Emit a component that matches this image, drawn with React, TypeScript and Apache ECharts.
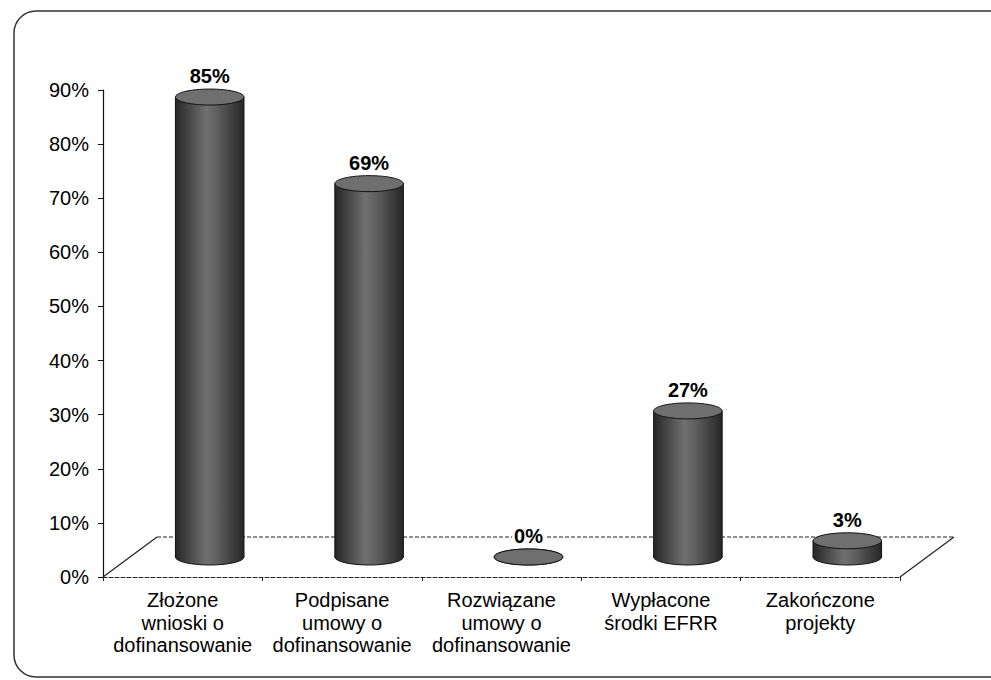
import React, { useEffect, useRef } from "react";
import * as echarts from "echarts";

const CATEGORIES = [
  "Złożone\nwnioski o\ndofinansowanie",
  "Podpisane\numowy o\ndofinansowanie",
  "Rozwiązane\numowy o\ndofinansowanie",
  "Wypłacone\nśrodki EFRR",
  "Zakończone\nprojekty",
];
const VALUES = [85, 69, 0, 27, 3];
const Y_MIN = 0;
const Y_MAX = 90;
const Y_STEP = 10;

const DX = 27;
const DY = -20;
const RY = 8;
const FONT = '"Liberation Sans", Arial, sans-serif';

export default function App() {
  const ref = useRef<HTMLDivElement>(null);
  useEffect(() => {
    if (!ref.current) return;
    const chart = echarts.init(ref.current, null, { renderer: "svg" });
    const bodyGrad = () =>
      new echarts.graphic.LinearGradient(0, 0, 1, 0, [
        { offset: 0, color: "#262626" },
        { offset: 0.45, color: "#707070" },
        { offset: 0.6, color: "#606060" },
        { offset: 1, color: "#262626" },
      ]);
    chart.setOption({
      animation: false,
      backgroundColor: "#fff",
      graphic: [
        {
          type: "rect",
          z: -10,
          shape: { x: 14, y: 11, width: 1000, height: 666, r: 22 },
          style: { fill: "none", stroke: "#333", lineWidth: 1.5 },
        },
      ],
      grid: { left: 103, right: 91, top: 90, bottom: 103 },
      xAxis: {
        type: "category",
        data: CATEGORIES,
        axisLine: { show: true, lineStyle: { color: "#222", width: 1, type: [4, 2] } },
        axisTick: { show: true, length: 4, lineStyle: { color: "#222" } },
        axisLabel: {
          interval: 0,
          margin: 12,
          color: "#000",
          fontFamily: FONT,
          fontSize: 20,
          lineHeight: 22.5,
        },
      },
      yAxis: {
        type: "value",
        min: Y_MIN,
        max: Y_MAX,
        interval: Y_STEP,
        axisLine: { show: true, lineStyle: { color: "#111", width: 1.2 } },
        axisTick: { show: true, length: 5, lineStyle: { color: "#111" } },
        splitLine: { show: false },
        axisLabel: {
          formatter: "{value}%",
          margin: 14,
          color: "#000",
          fontFamily: FONT,
          fontSize: 20,
        },
      },
      series: [
        {
          type: "custom",
          z: 1,
          data: [[0, 0]],
          silent: true,
          renderItem: (params: any, api: any) => {
            const left = api.coord([0, 0]);
            const right = api.coord([CATEGORIES.length - 1, 0]);
            const bw = api.size([1, 0])[0];
            const x0 = left[0] - bw / 2;
            const x1 = right[0] + bw / 2;
            const y0 = left[1];
            const line = (a: number[], b: number[], dashed: boolean) => ({
              type: "line",
              shape: { x1: a[0], y1: a[1], x2: b[0], y2: b[1] },
              style: {
                stroke: "#222",
                lineWidth: 1.2,
                lineDash: dashed ? [4, 2] : null,
              },
            });
            return {
              type: "group",
              children: [
                line([x0 + 2 * DX, y0 + 2 * DY], [x1 + 2 * DX, y0 + 2 * DY], true),
                line([x0, y0], [x0 + 2 * DX, y0 + 2 * DY], false),
                line([x1, y0], [x1 + 2 * DX, y0 + 2 * DY], false),
              ],
            };
          },
        },
        {
          type: "custom",
          z: 2,
          data: VALUES.map((v, i) => [i, v]),
          encode: { x: 0, y: 1 },
          renderItem: (params: any, api: any) => {
            const idx = api.value(0);
            const v = api.value(1);
            const base = api.coord([idx, 0]);
            const top = api.coord([idx, v]);
            const bw = api.size([1, 0])[0];
            const w = bw * 0.43;
            const rx = w / 2;
            const cx = base[0] + DX;
            const by = base[1] + DY;
            const ty = top[1] + DY;
            const children: any[] = [];
            children.push({
              type: "ellipse",
              shape: { cx, cy: by, rx, ry: RY },
              style: { fill: bodyGrad(), stroke: "#111", lineWidth: 1 },
            });
            if (by - ty > 0.5) {
              children.push({
                type: "rect",
                shape: { x: cx - rx, y: ty, width: w, height: by - ty },
                style: { fill: bodyGrad() },
              });
              children.push({
                type: "line",
                shape: { x1: cx - rx, y1: ty, x2: cx - rx, y2: by },
                style: { stroke: "#111", lineWidth: 1 },
              });
              children.push({
                type: "line",
                shape: { x1: cx + rx, y1: ty, x2: cx + rx, y2: by },
                style: { stroke: "#111", lineWidth: 1 },
              });
            }
            children.push({
              type: "ellipse",
              shape: { cx, cy: ty, rx, ry: RY },
              style: { fill: "#6f6f6f", stroke: "#111", lineWidth: 1 },
            });
            children.push({
              type: "text",
              style: {
                text: v + "%",
                x: cx,
                y: ty - RY - 3,
                align: "center",
                verticalAlign: "bottom",
                font: `bold 20px ${FONT}`,
                fill: "#000",
                backgroundColor: "#fff",
                padding: [0, 2],
              },
            });
            return { type: "group", children };
          },
        },
      ],
    });
    return () => chart.dispose();
  }, []);
  return (
    <div
      ref={ref}
      style={{ position: "fixed", left: 0, top: 0, width: 991, height: 680 }}
    />
  );
}
